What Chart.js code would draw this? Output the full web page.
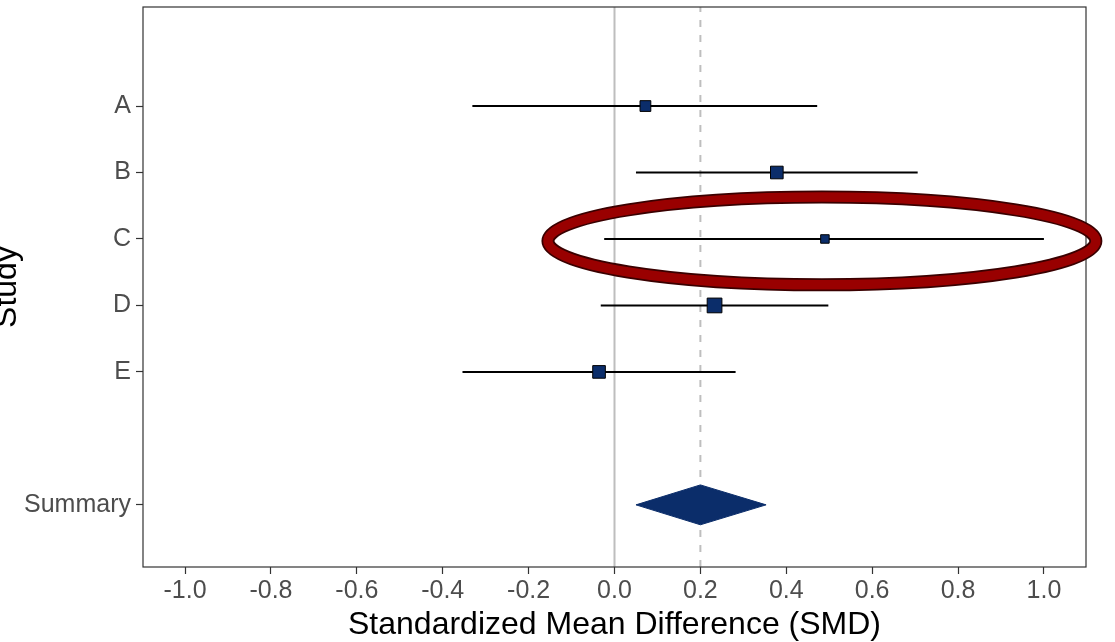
<!DOCTYPE html>
<html>
<head>
<meta charset="utf-8">
<script src="https://cdn.jsdelivr.net/npm/chart.js"></script>
<style>
  html, body { margin: 0; padding: 0; background: #fff; }
  #wrap { width: 1115px; height: 642px; position: relative; }
</style>
</head>
<body>
<div id="wrap"><canvas id="forest"></canvas></div>
<script>
// Study data
const studies = ['A', 'B', 'C', 'D', 'E'];
const studyRows = [8, 7, 6, 5, 4];
const smd = [0.072, 0.378, 0.490, 0.233, -0.036];
const ciLower = [-0.331, 0.050, -0.024, -0.032, -0.354];
const ciUpper = [0.472, 0.706, 1.000, 0.498, 0.282];
const weights = [16, 22, 10, 30, 22];

// Pooled estimate
const summaryLabel = 'Summary';
const summaryRow = 2;
const summaryEst = 0.200;
const summaryLower = 0.050;
const summaryUpper = 0.353;

// Axis ticks
const xTicks = [-1.0, -0.8, -0.6, -0.4, -0.2, 0.0, 0.2, 0.4, 0.6, 0.8, 1.0];
const yLabels = [...studies, summaryLabel];
const yRows = [...studyRows, summaryRow];

// Highlighted study (ellipse round study C)
const highlightStudy = 'C';
const highlightCenter = 0.483;

const X_MIN = -1.098, X_MAX = 1.098;
const Y_MIN = 1.065, Y_MAX = 9.49;
const NAVY = '#0b2d6a';
const FONT = '"Liberation Sans", Arial, Helvetica, sans-serif';

// CI whiskers, one dataset per study
const ciSets = studies.map((s, i) => ({
    type: 'scatter',
    label: 'CI ' + s,
    data: [{ x: ciLower[i], y: studyRows[i] }, { x: ciUpper[i], y: studyRows[i] }],
    showLine: true,
    borderColor: '#000',
    borderWidth: 2,
    pointRadius: 0,
    order: 3
}));

const datasets = [
    {
        type: 'scatter',
        label: 'null line',
        data: [{ x: 0, y: Y_MIN }, { x: 0, y: Y_MAX }],
        showLine: true,
        borderColor: '#bebebe',
        borderWidth: 2,
        pointRadius: 0,
        order: 6
    },
    {
        type: 'scatter',
        label: 'summary line',
        data: [{ x: summaryEst, y: Y_MIN }, { x: summaryEst, y: Y_MAX }],
        showLine: true,
        borderColor: '#bebebe',
        borderWidth: 2,
        borderDash: [7, 8],
        pointRadius: 0,
        order: 5
    },
    ...ciSets,
    {
        type: 'scatter',
        label: 'SMD',
        data: studies.map((s, i) => ({ x: smd[i], y: studyRows[i] })),
        pointStyle: 'rect',
        // square side grows with sqrt(weight)
        pointRadius: weights.map(w => 2.69 * Math.sqrt(w) / Math.SQRT2),
        pointHoverRadius: weights.map(w => 2.69 * Math.sqrt(w) / Math.SQRT2),
        backgroundColor: NAVY,
        borderColor: '#000',
        borderWidth: 1,
        order: 2
    },
    {
        type: 'scatter',
        label: summaryLabel,
        data: [
            { x: summaryLower, y: summaryRow },
            { x: summaryEst, y: summaryRow + 0.3 },
            { x: summaryUpper, y: summaryRow },
            { x: summaryEst, y: summaryRow - 0.3 },
            { x: summaryLower, y: summaryRow }
        ],
        showLine: true,
        fill: 'shape',
        backgroundColor: NAVY,
        borderColor: NAVY,
        borderWidth: 1,
        pointRadius: 0,
        order: 1
    }
];

// panel border, highlight ellipse, y title
const decorations = {
    id: 'decorations',
    afterDatasetsDraw(chart) {
        const { ctx, chartArea: a } = chart;
        ctx.save();
        ctx.strokeStyle = '#333333';
        ctx.lineWidth = 1.2;
        ctx.strokeRect(a.left, a.top, a.right - a.left, a.bottom - a.top);
        ctx.restore();
    },
    afterDraw(chart) {
        const { ctx, chartArea: a } = chart;
        const xs = chart.scales.x, ys = chart.scales.y;
        const row = studyRows[studies.indexOf(highlightStudy)];
        const cx = xs.getPixelForValue(highlightCenter);
        const cy = ys.getPixelForValue(row) + 2;
        const rx = Math.abs(xs.getPixelForValue(highlightCenter + 0.638) - cx);
        const ry = Math.abs(ys.getPixelForValue(row + 0.66) - ys.getPixelForValue(row));

        ctx.save();
        ctx.beginPath();
        ctx.ellipse(cx, cy, rx, ry, 0, 0, Math.PI * 2);
        ctx.strokeStyle = '#3a0000';
        ctx.lineWidth = 13;
        ctx.stroke();
        ctx.strokeStyle = '#990000';
        ctx.lineWidth = 9.5;
        ctx.stroke();
        ctx.restore();

        // y axis title, partly off the left edge like the original
        ctx.save();
        ctx.translate(16, (a.top + a.bottom) / 2);
        ctx.rotate(-Math.PI / 2);
        ctx.font = '32px ' + FONT;
        ctx.fillStyle = '#000';
        ctx.textAlign = 'center';
        ctx.textBaseline = 'alphabetic';
        ctx.fillText('Study', 0, 0);
        ctx.restore();
    }
};

new Chart(document.getElementById('forest'), {
    data: { datasets },
    plugins: [decorations],
    options: {
        responsive: true,
        maintainAspectRatio: false,
        animation: false,
        layout: { autoPadding: false, padding: { top: 7, right: 29, left: 0, bottom: 0 } },
        plugins: {
            legend: { display: false },
            tooltip: { enabled: false }
        },
        scales: {
            x: {
                type: 'linear',
                min: X_MIN,
                max: X_MAX,
                afterBuildTicks: scale => { scale.ticks = xTicks.map(v => ({ value: v })); },
                afterFit: scale => {
                    scale.height = 75;
                    scale.paddingLeft = 0;
                    scale.paddingRight = 0;
                },
                ticks: {
                    autoSkip: false,
                    maxRotation: 0,
                    padding: 2,
                    color: '#4d4d4d',
                    font: { family: FONT, size: 25 },
                    callback: v => v.toFixed(1)
                },
                grid: { drawOnChartArea: false, drawTicks: true, tickLength: 7, tickColor: '#333333', tickWidth: 1.2 },
                border: { display: false },
                title: {
                    display: true,
                    text: 'Standardized Mean Difference (SMD)',
                    color: '#000',
                    font: { family: FONT, size: 32, lineHeight: 1.0 },
                    padding: { top: 0, bottom: 1 }
                }
            },
            y: {
                type: 'linear',
                min: Y_MIN,
                max: Y_MAX,
                afterBuildTicks: scale => { scale.ticks = yRows.map(v => ({ value: v })); },
                afterFit: scale => {
                    scale.width = 143;
                    scale.paddingTop = 0;
                    scale.paddingBottom = 0;
                },
                ticks: {
                    autoSkip: false,
                    padding: 5,
                    color: '#4d4d4d',
                    font: { family: FONT, size: 25 },
                    callback: v => yLabels[yRows.indexOf(v)] ?? ''
                },
                grid: { drawOnChartArea: false, drawTicks: true, tickLength: 7, tickColor: '#333333', tickWidth: 1.2 },
                border: { display: false },
                title: { display: false }
            }
        }
    }
});
</script>
</body>
</html>
